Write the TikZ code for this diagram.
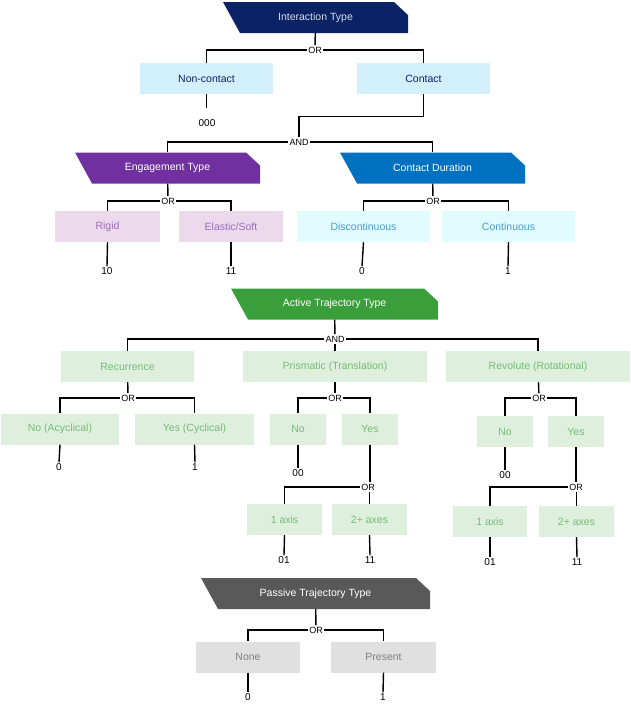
\documentclass[tikz,border=0pt]{standalone}
\usepackage{fontspec}
\setmainfont{Liberation Sans}
\usepackage{tikz}
\definecolor{navy}{HTML}{0B2265}
\definecolor{purp}{HTML}{7030A0}
\definecolor{dblue}{HTML}{0070C0}
\definecolor{dgreen}{HTML}{3A9F3A}
\definecolor{dgray}{HTML}{595959}
\tikzset{
  header/.style={minimum height=31pt, inner sep=0pt, text=white, font=\fontsize{10.5}{12}\selectfont,
    path picture={\fill[#1] (path picture bounding box.north west)
      -- ([xshift=-14pt]path picture bounding box.north east)
      -- ([yshift=-13pt]path picture bounding box.north east)
      -- (path picture bounding box.south east)
      -- ([xshift=17pt]path picture bounding box.south west) -- cycle;}},
  box/.style={fill=#1, minimum height=31pt, inner sep=0pt, font=\fontsize{10.5}{12}\selectfont},
  gate/.style={inner sep=1.5pt, font=\fontsize{9}{10}\selectfont},
  val/.style={inner sep=2pt, font=\fontsize{10}{11}\selectfont},
  link/.style={line width=1.4pt}
}
\begin{document}
\begin{tikzpicture}[x=1pt, y=-1pt]
\useasboundingbox (0,0) rectangle (630,704);

% Interaction type
\node [header=navy, minimum width=185pt, text=white!85!navy] (it) at (315.5,17.5) {Interaction Type};
\node [gate] (or1) at (315,50) {OR};
\node [box=cyan!18, minimum width=133pt, text=navy] (nc) at (206.5,78.5) {Non-contact};
\node [box=cyan!18, minimum width=133pt, text=navy] (ct) at (423.5,78.5) {Contact};
\node [val] (v000) at (207,123) {000};
\node [gate] (and1) at (299,142) {AND};

% Engagement type and contact duration
\node [header=purp, minimum width=185pt] (et) at (167.5,168) {Engagement Type};
\node [header=dblue, minimum width=185pt] (cd) at (432.5,168) {Contact Duration};
\node [gate] (or2) at (168,201) {OR};
\node [gate] (or3) at (433,201) {OR};
\node [box=violet!15, minimum width=105pt, text=purp!70] (rg) at (107.5,226.5) {Rigid};
\node [box=violet!15, minimum width=104pt, text=purp!70] (es) at (231,226.5) {Elastic/Soft};
\node [box=blue!10!cyan!12, minimum width=133pt, text=dblue!70] (dc) at (363.5,226.5) {Discontinuous};
\node [box=blue!10!cyan!12, minimum width=133pt, text=dblue!70] (cn) at (508.5,226.5) {Continuous};
\node [val] (v10) at (107,271) {10};
\node [val] (v11) at (231,271) {11};
\node [val] (v0a) at (362,271) {0};
\node [val] (v1a) at (508,271) {1};

% Active trajectory type
\node [header=dgreen, minimum width=207pt] (at) at (334.5,304) {Active Trajectory Type};
\node [gate] (and2) at (335,339) {AND};
\node [box=dgreen!17, minimum width=133pt, text=dgreen!70] (rc) at (127.5,366.5) {Recurrence};
\node [box=dgreen!17, minimum width=184pt, text=dgreen!70] (pr) at (335,366.5) {Prismatic (Translation)};
\node [box=dgreen!17, minimum width=184pt, text=dgreen!70] (rv) at (538,366.5) {Revolute (Rotational)};
\node [gate] (or4) at (128,398) {OR};
\node [gate] (or5) at (335,398) {OR};
\node [gate] (or6) at (539,398) {OR};
\node [box=dgreen!17, minimum width=118pt, text=dgreen!70] (rno) at (60,429) {No (Acyclical)};
\node [box=dgreen!17, minimum width=119pt, text=dgreen!70] (ryes) at (194.5,429) {Yes (Cyclical)};
\node [box=dgreen!17, minimum width=56pt, text=dgreen!70] (pno) at (298,429) {No};
\node [box=dgreen!17, minimum width=56pt, text=dgreen!70] (pyes) at (370,429) {Yes};
\node [box=dgreen!17, minimum width=56pt, text=dgreen!70] (vno) at (505,431.5) {No};
\node [box=dgreen!17, minimum width=56pt, text=dgreen!70] (vyes) at (576,431.5) {Yes};
\node [val] (v0b) at (59,467) {0};
\node [val] (v1b) at (195,467) {1};
\node [val] (v00a) at (298,473) {00};
\node [val] (v00b) at (505,475) {00};
\node [gate] (or7) at (368,487) {OR};
\node [gate] (or8) at (576,487) {OR};
\node [box=dgreen!17, minimum width=75pt, text=dgreen!70] (p1) at (284.5,519.5) {1 axis};
\node [box=dgreen!17, minimum width=75pt, text=dgreen!70] (p2) at (369.5,519.5) {2+ axes};
\node [box=dgreen!17, minimum width=74pt, text=dgreen!70] (q1) at (490,521.5) {1 axis};
\node [box=dgreen!17, minimum width=75pt, text=dgreen!70] (q2) at (576.5,521.5) {2+ axes};
\node [val] (v01a) at (284,560) {01};
\node [val] (v11a) at (370,560) {11};
\node [val] (v01b) at (490,562) {01};
\node [val] (v11b) at (577,562) {11};

% Passive trajectory type
\node [header=dgray, minimum width=229pt] (pt) at (315.5,593.5) {Passive Trajectory Type};
\node [gate] (or9) at (316,630) {OR};
\node [box=black!12, minimum width=104pt, text=black!50] (nn) at (248,657) {None};
\node [box=black!12, minimum width=105pt, text=black!50] (ps) at (383.5,657) {Present};
\node [val] (v0c) at (248,697) {0};
\node [val] (v1c) at (383,697) {1};

% connectors
\draw [link] (it) -- (or1);
\draw [link] (or1.west) -| (nc.north);
\draw [link] (or1.east) -| (ct.north);
\draw [link] (nc.south) -- ++(0,14);
\draw [link] (ct.south) -- ++(0,22) -| (and1.north);
\draw [link] (and1.west) -| (et.north);
\draw [link] (and1.east) -| (cd.north);
\draw [link] (et) -- (or2);
\draw [link] (cd) -- (or3);
\draw [link] (or2.west) -| (rg.north);
\draw [link] (or2.east) -| (es.north);
\draw [link] (or3.west) -| (dc.north);
\draw [link] (or3.east) -| (cn.north);
\foreach \b/\v in {rg/v10, es/v11, dc/v0a, cn/v1a, rno/v0b, ryes/v1b, pno/v00a, vno/v00b,
                   p1/v01a, p2/v11a, q1/v01b, q2/v11b, nn/v0c, ps/v1c}
  \draw [link] (\b.south) -- ([yshift=-1pt]\v.north);
\draw [link] (at) -- (and2);
\draw [link] (and2.west) -| (rc.north);
\draw [link] (and2.east) -| (rv.north);
\draw [link] (and2) -- (pr);
\draw [link] (rc) -- (or4);
\draw [link] (pr) -- (or5);
\draw [link] (rv) -- (or6);
\draw [link] (or4.west) -| (rno.north);
\draw [link] (or4.east) -| (ryes.north);
\draw [link] (or5.west) -| (pno.north);
\draw [link] (or5.east) -| (pyes.north);
\draw [link] (or6.west) -| (vno.north);
\draw [link] (or6.east) -| (vyes.north);
\draw [link] (pyes.south) -- (pyes.south |- or7.north);
\draw [link] (vyes.south) -- (vyes.south |- or8.north);
\draw [link] (or7.west) -| (p1.north);
\draw [link] (or8.west) -| (q1.north);
\draw [link] (p2.north |- or7.south) -- (p2.north);
\draw [link] (q2.north |- or8.south) -- (q2.north);
\draw [link] (pt) -- (or9);
\draw [link] (or9.west) -| (nn.north);
\draw [link] (or9.east) -| (ps.north);
\end{tikzpicture}
\end{document}
